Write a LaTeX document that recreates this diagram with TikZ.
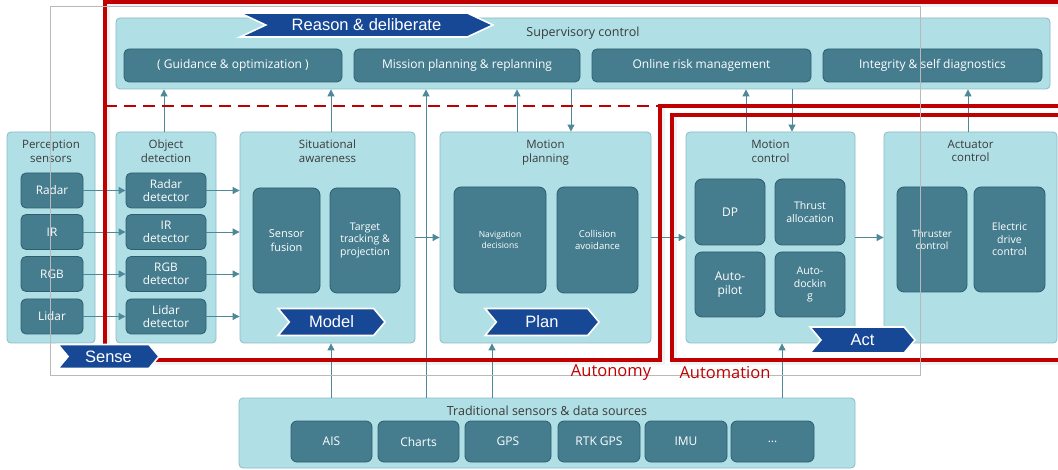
\documentclass[tikz,border=0pt]{standalone}
\usepackage{fontspec}
\setmainfont{Open Sans}
\newfontfamily\bannerfont{Liberation Sans}
\usepackage{tikz}
\usetikzlibrary{shapes.symbols, arrows.meta, positioning}
\definecolor{boxLight}{HTML}{B0E0E6}
\definecolor{boxEdge}{HTML}{8ABCC6}
\definecolor{boxDark}{HTML}{457D8F}
\definecolor{darkEdge}{HTML}{2D5F6E}
\definecolor{flowTeal}{HTML}{4E8999}
\definecolor{bannerBlue}{HTML}{174896}
\definecolor{autoRed}{HTML}{C00000}
\definecolor{titleGray}{HTML}{3A3A3A}

\begin{document}
\begin{tikzpicture}[x=1pt, y=-1pt,
    outer/.style={rectangle, rounded corners=4pt, draw=boxEdge, fill=boxLight, line width=0.8pt, inner sep=0pt},
    title/.style={anchor=north, align=center, text=titleGray, font=\fontsize{11.5}{13.5}\selectfont},
    inner/.style={rectangle, rounded corners=7pt, draw=darkEdge, fill=boxDark, line width=0.8pt,
      text=white, align=center, inner sep=1pt, font=\fontsize{11.8}{13.5}\selectfont},
    mid/.style={font=\fontsize{10.5}{12.5}\selectfont},
    small/.style={font=\fontsize{8.5}{11}\selectfont},
    flow/.style={-{Triangle[length=7pt, width=7pt]}, flowTeal, line width=0.9pt},
    banner/.style={signal, signal to=east, signal from=west, signal pointer angle=100, fill=bannerBlue,
      draw=white, line width=1.6pt, text=white, inner sep=0pt, font=\bannerfont\fontsize{16.5}{18}\selectfont},
    redline/.style={autoRed, line width=3.2pt},
    shade/.style={black!5, line width=6pt},
    redtext/.style={text=autoRed, font=\fontsize{16.5}{18}\selectfont}
  ]
  \clip (0,0) rectangle (1058,470);
  \fill[white] (0,0) rectangle (1058,470);

  % soft shadow under the red borders
  \draw[shade] (1062,4) -- (107,4) -- (107,362) -- (662,362) -- (662,108);
  \draw[shade] (674,117) -- (674,362) -- (1062,362);

  % supervisory layer
  \node[outer, minimum width=934pt, minimum height=71pt,
    label={[title, font=\fontsize{12.5}{14}\selectfont, yshift=-6pt]north:Supervisory control}] (sup) at (583,53.5) {};
  \foreach \n/\x/\w/\lbl in {guid/233/218/( Guidance \& optimization ),
      miss/467/226/Mission planning \& replanning,
      risk/701.5/219/Online risk management,
      integ/932.5/219/Integrity \& self diagnostics} {
    \node[inner, rounded corners=5pt, font=\fontsize{12}{14}\selectfont, minimum width=\w pt, minimum height=33pt] (\n) at (\x,65.5) {\lbl};
  }

  % main chain
  \node[outer, minimum width=88pt, minimum height=211pt,
    label={[title, yshift=-5pt]north:Perception\\sensors}] (per) at (51,237.5) {};
  \node[outer, minimum width=100pt, minimum height=211pt,
    label={[title, yshift=-5pt]north:Object\\detection}] (od) at (166,237.5) {};
  \node[outer, minimum width=175pt, minimum height=211pt,
    label={[title, yshift=-5pt]north:Situational\\awareness}] (sa) at (327.5,237.5) {};
  \node[outer, minimum width=211pt, minimum height=211pt,
    label={[title, yshift=-5pt]north:Motion\\planning}] (mp) at (545.5,237.5) {};
  \node[outer, minimum width=169pt, minimum height=211pt,
    label={[title, yshift=-5pt]north:Motion\\control}] (mc) at (770.5,237.5) {};
  \node[outer, minimum width=173pt, minimum height=211pt,
    label={[title, yshift=-5pt]north:Actuator\\control}] (ac) at (970.5,237.5) {};

  \foreach \i/\y/\s in {1/190.5/Radar, 2/232/IR, 3/274/RGB, 4/316.5/Lidar} {
    \node[inner, rounded corners=5pt, minimum width=62pt, minimum height=35pt] (p\i) at (52,\y) {\s};
    \node[inner, rounded corners=5pt, minimum width=80pt, minimum height=35pt] (d\i) at (166,\y) {\s\\detector};
    \draw[flow] (p\i) -- (d\i);
    \draw[flow] (d\i) -- (d\i -| sa.west);
  }

  \node[inner, font=\fontsize{11}{13.5}\selectfont, minimum width=67pt, minimum height=105pt] (fus) at (286.5,240.5) {Sensor\\fusion};
  \node[inner, mid, minimum width=70pt, minimum height=105pt] (trk) at (365,240.5) {Target\\tracking \&\\projection};
  \node[inner, small, minimum width=92pt, minimum height=106pt] (nav) at (500,240) {Navigation\\decisions};
  \node[inner, small, font=\fontsize{9.5}{12}\selectfont, minimum width=81pt, minimum height=106pt] (col) at (597.5,240) {Collision\\avoidance};
  \node[inner, font=\fontsize{12}{14}\selectfont, minimum width=70pt, minimum height=66pt] (dp) at (730,212) {DP};
  \node[inner, mid, minimum width=70pt, minimum height=66pt] (thr) at (810,212) {Thrust\\allocation};
  \node[inner, font=\fontsize{12}{14.5}\selectfont, minimum width=70pt, minimum height=65pt] (apil) at (730,284.5) {Auto-\\pilot};
  \node[inner, mid, minimum width=70pt, minimum height=65pt] (adock) at (810,284.5) {Auto-\\dockin\\g};
  \node[inner, font=\fontsize{10}{12}\selectfont, minimum width=70pt, minimum height=105pt] (thc) at (932,239.5) {Thruster\\control};
  \node[inner, mid, minimum width=71pt, minimum height=105pt] (edc) at (1009.5,239.5) {Electric\\drive\\control};

  % traditional sources
  \node[outer, minimum width=616pt, minimum height=70pt,
    label={[title, font=\fontsize{12.5}{14}\selectfont, yshift=-5pt]north:Traditional sensors \& data sources}] (trad) at (547,433) {};
  \foreach \n/\x/\w/\lbl in {ais/331.5/81/AIS, charts/418.5/81/Charts, gps/508/86/GPS,
      rtk/599/82/RTK GPS, imu/686/82/IMU, more/772.5/83/{\ldots}} {
    \node[inner, rounded corners=6pt, font=\fontsize{12}{14}\selectfont, minimum width=\w pt, minimum height=41pt] (\n) at (\x,441.5) {\lbl};
  }

  % taps
  \coordinate (bus) at (426,0);
  \coordinate (saup) at ([xshift=3.5pt]sa.north);
  \coordinate (sain) at ([xshift=3.5pt]sa.south);
  \coordinate (mpup) at ([xshift=-28.5pt]mp.north);
  \coordinate (mpdn) at ([xshift=25.5pt]mp.north);
  \coordinate (mpin) at ([xshift=-53.5pt]mp.south);
  \coordinate (mcup) at ([xshift=-24.5pt]mc.north);
  \coordinate (mcdn) at ([xshift=21.5pt]mc.north);
  \coordinate (mcin) at ([xshift=11.5pt]mc.south);
  \coordinate (odup) at ([xshift=-2pt]od.north);
  \coordinate (acup) at ([xshift=-2.5pt]ac.north);

  \draw[flow] (odup) -- (odup |- sup.south);
  \draw[flow] (saup) -- (saup |- sup.south);
  \draw[flow] (trad.north -| bus) -- (bus |- sup.south);
  \draw[flow] (mpup) -- (mpup |- sup.south);
  \draw[flow] (mpdn |- sup.south) -- (mpdn);
  \draw[flow] (mcup) -- (mcup |- sup.south);
  \draw[flow] (mcdn |- sup.south) -- (mcdn);
  \draw[flow] (acup) -- (acup |- sup.south);
  \draw[flow] (sa) -- (mp);
  \draw[flow] (mp) -- (mc);
  \draw[flow] (mc) -- (ac);
  \draw[flow] (sain |- trad.north) -- (sain);
  \draw[flow] (mpin |- trad.north) -- (mpin);
  \draw[flow] (mcin |- trad.north) -- (mcin);

  % autonomy / automation borders
  \draw[redline] (1062,2) -- (105,2) -- (105,360) -- (660,360) -- (660,106) -- (1062,106);
  \draw[redline, line width=2.2pt, dash pattern=on 12pt off 7pt] (105,106) -- (660,106);
  \draw[redline] (1062,115) -- (672,115) -- (672,360) -- (1062,360);
  \draw[gray!55, line width=0.7pt] (50,6) rectangle (920,375);
  \node[redtext] (autonomy) at (611,373) {Autonomy};
  \node[redtext] (automation) at (725,373) {Automation};

  % banners
  \node[banner, signal pointer angle=50, minimum width=253pt, minimum height=24pt] (reason) at (366.5,25) {Reason \& deliberate};
  \node[banner, minimum width=101pt, minimum height=24pt] (sense) at (108.5,356.5) {Sense};
  \node[banner, minimum width=107pt, minimum height=27pt] (model) at (331.5,322) {Model};
  \node[banner, minimum width=114pt, minimum height=27pt] (plan) at (542,322) {Plan};
  \node[banner, minimum width=105pt, minimum height=26pt] (act) at (862.5,340) {Act};
\end{tikzpicture}
\end{document}
